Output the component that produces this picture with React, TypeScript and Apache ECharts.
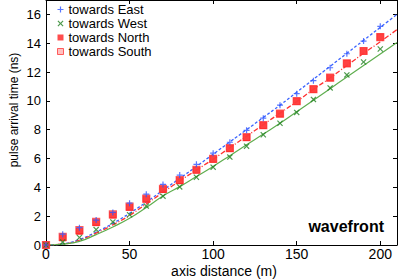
import React, { useEffect, useRef } from "react";
import * as echarts from "echarts";

const xPoints = [0, 10, 20, 30, 40, 50, 60, 70, 80, 90, 100, 110, 120, 130, 140, 150, 160, 170, 180, 190, 200];
const eastPts = [0, 0.75, 1.2, 1.73, 2.26, 2.9, 3.53, 4.2, 4.85, 5.6, 6.37, 7.13, 7.96, 8.8, 9.7, 10.5, 11.4, 12.3, 13.27, 14.15, 15.17];
const westPts = [0, 0.2, 0.52, 1.07, 1.6, 2.1, 2.7, 3.39, 4.03, 4.7, 5.4, 6.1, 6.86, 7.65, 8.45, 9.2, 10.1, 10.9, 11.8, 12.7, 13.6];
const northPts = [0, 0.5, 0.95, 1.55, 2.08, 2.61, 3.19, 3.86, 4.47, 5.2, 5.96, 6.7, 7.46, 8.3, 9.1, 9.97, 10.8, 11.6, 12.6, 13.46, 14.43];
const southPts = [0, 0.56, 1.03, 1.6, 2.13, 2.66, 3.22, 3.9, 4.5, 5.22, 5.98, 6.72, 7.48, 8.32, 9.12, 9.98, 10.82, 11.62, 12.6, 13.46, 14.43];

const xFit = [0, 10, 20, 30, 40, 50, 60, 70, 80, 90, 100, 110, 120, 130, 140, 150, 160, 170, 180, 190, 200, 210];
const eastFit = [0, 0.08, 0.38, 0.9, 1.5, 2.2, 2.98, 3.8, 4.62, 5.45, 6.3, 7.15, 8.0, 8.85, 9.7, 10.6, 11.5, 12.4, 13.3, 14.2, 15.1, 16.0];
const northFit = [0, 0.07, 0.33, 0.82, 1.4, 2.05, 2.85, 3.65, 4.45, 5.2, 5.95, 6.75, 7.55, 8.35, 9.15, 9.95, 10.8, 11.6, 12.45, 13.3, 14.1, 14.95];
const westFit = [0, 0.06, 0.25, 0.72, 1.25, 1.85, 2.6, 3.4, 4.05, 4.75, 5.45, 6.2, 6.95, 7.7, 8.45, 9.25, 10.05, 10.85, 11.65, 12.45, 13.25, 14.05];

const seriesNames = ["towards East", "towards West", "towards North", "towards South"];
const xLabel = "axis distance (m)";
const yLabel = "pulse arrival time (ns)";
const tag = "wavefront";

const FONT = "Liberation Sans, Arial, Helvetica, sans-serif";
const PLUS = "path://M4,0h2v4h4v2h-4v4h-2v-4h-4v-2h4z";
const CROSS = "path://M0,1.4L1.4,0L5,3.6L8.6,0L10,1.4L6.4,5L10,8.6L8.6,10L5,6.4L1.4,10L0,8.6L3.6,5z";
const BLUE = "#2f55ff";
const GREEN = "#1e7f1e";
const RED = "#ff2020";

const pair = (xs: number[], ys: number[]) => ys.map((y, i) => [xs[i], y]);

export default function App() {
  const ref = useRef<HTMLDivElement>(null);
  useEffect(() => {
    if (!ref.current) return;
    const chart = echarts.init(ref.current, undefined, { renderer: "svg" });
    const axisCommon = {
      type: "value" as const,
      axisLine: { show: true, onZero: false, lineStyle: { color: "#000", width: 1 } },
      axisTick: { show: true, inside: true, length: 4, lineStyle: { color: "#000" } },
      splitLine: { show: false },
    };
    chart.setOption({
      animation: false,
      backgroundColor: "#fff",
      grid: { left: 46, right: 1, top: 0, bottom: 35 },
      xAxis: [
        {
          ...axisCommon,
          min: 0, max: 210, interval: 50,
          axisLabel: { color: "#000", fontSize: 14, fontFamily: FONT, margin: 2, showMaxLabel: false,
            formatter: (v: number) => (v % 50 === 0 ? String(v) : "") },
        },
        {
          ...axisCommon, position: "top",
          min: 0, max: 210, interval: 50,
          axisLabel: { show: false },
        },
      ],
      yAxis: [
        {
          ...axisCommon,
          min: 0, max: 17, interval: 2,
          axisLabel: { color: "#000", fontSize: 13, fontFamily: FONT, margin: 5, showMaxLabel: false,
            formatter: (v: number) => (v % 2 === 0 ? String(v) : "") },
        },
        {
          ...axisCommon, position: "right",
          min: 0, max: 17, interval: 2,
          axisLabel: { show: false },
        },
      ],
      legend: {
        data: [
          { name: seriesNames[0], icon: PLUS, itemStyle: { color: BLUE, borderWidth: 0 } },
          { name: seriesNames[1], icon: CROSS, itemStyle: { color: GREEN, borderWidth: 0 } },
          { name: seriesNames[2], icon: "rect", itemStyle: { color: RED, borderWidth: 0 } },
          { name: seriesNames[3], icon: "rect", itemStyle: { color: "#ffb0b0", borderColor: "#ff3a3a", borderWidth: 1 } },
        ],
        orient: "vertical",
        left: 57,
        top: 3,
        padding: 0,
        itemWidth: 6,
        itemHeight: 6,
        itemGap: 1,
        textStyle: { color: "#000", fontSize: 13, fontFamily: FONT, lineHeight: 12 },
      },
      graphic: [
        { type: "text", x: 224, y: 271, style: { text: xLabel, fontSize: 14, fontFamily: FONT, fill: "#000", align: "center", verticalAlign: "middle" } },
        { type: "text", x: 14, y: 110, rotation: Math.PI / 2, style: { text: yLabel, fontSize: 12, fontFamily: FONT, fill: "#000", align: "center", verticalAlign: "middle" } },
        { type: "text", x: 384, y: 226, style: { text: tag, fontSize: 16, fontWeight: "bold", fontFamily: FONT, fill: "#000", align: "right", verticalAlign: "middle" } },
      ],
      series: [
        { type: "line", data: pair(xFit, eastFit), smooth: true, showSymbol: false, symbol: "none", silent: true, z: 1,
          lineStyle: { color: "#3a63ff", width: 1.3, type: [3, 2] } },
        { type: "line", data: pair(xFit, northFit), smooth: true, showSymbol: false, symbol: "none", silent: true, z: 1,
          lineStyle: { color: "#ff3030", width: 1.3, type: [5, 2, 1, 2] } },
        { type: "line", data: pair(xFit, westFit), smooth: true, showSymbol: false, symbol: "none", silent: true, z: 1,
          lineStyle: { color: "#5fae4f", width: 1.2 } },
        { name: seriesNames[3], type: "scatter", data: pair(xPoints, southPts), symbol: "rect", symbolSize: 7, z: 2,
          itemStyle: { color: "#ffb0b0", borderColor: "#ff3a3a", borderWidth: 1.2 } },
        { name: seriesNames[2], type: "scatter", data: pair(xPoints, northPts), symbol: "rect", symbolSize: 7, z: 3,
          itemStyle: { color: RED } },
        { name: seriesNames[1], type: "scatter", data: pair(xPoints, westPts), symbol: CROSS, symbolSize: 6, z: 4,
          itemStyle: { color: GREEN } },
        { name: seriesNames[0], type: "scatter", data: pair(xPoints, eastPts), symbol: PLUS, symbolSize: 6, z: 5,
          itemStyle: { color: BLUE } },
      ],
    });
    return () => chart.dispose();
  }, []);
  return <div ref={ref} style={{ position: "absolute", left: 0, top: 0, width: 398, height: 280 }} />;
}
